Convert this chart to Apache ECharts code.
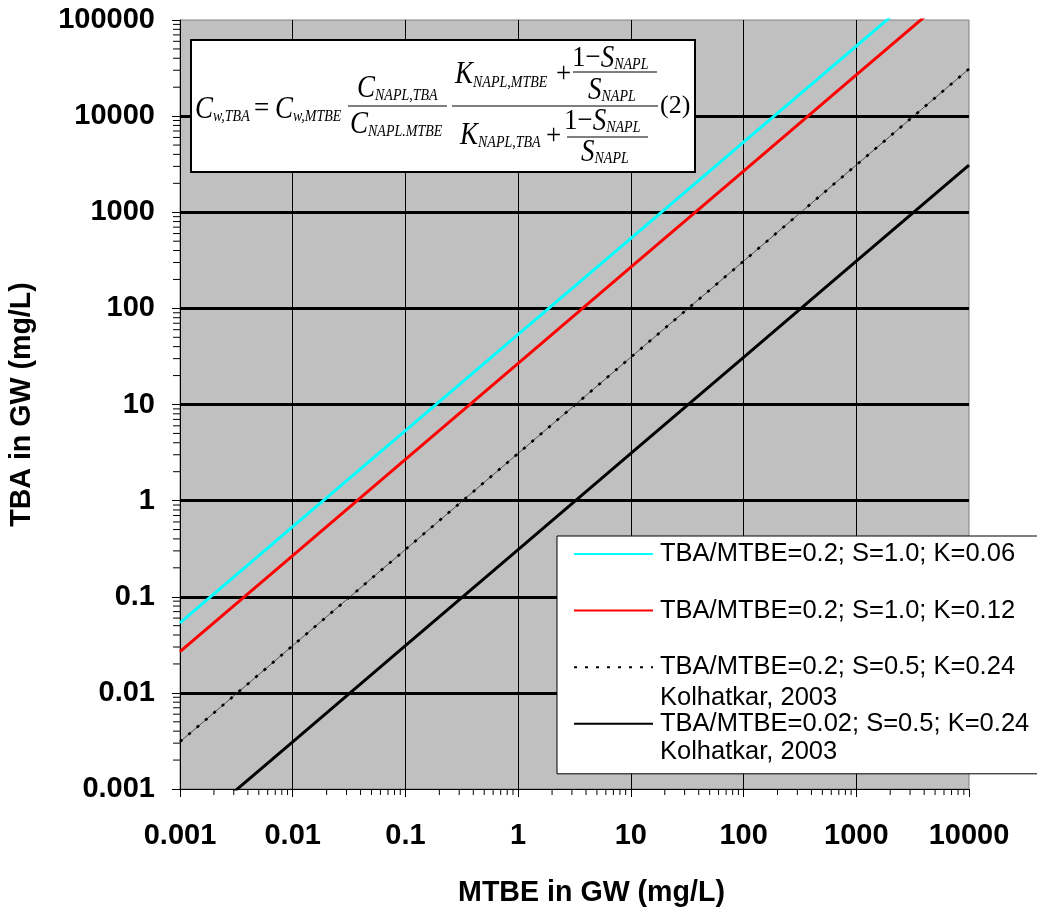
<!DOCTYPE html>
<html><head><meta charset="utf-8">
<script src="https://cdn.jsdelivr.net/npm/echarts@6/dist/echarts.min.js"></script>
<style>html,body{margin:0;padding:0;background:#fff}#c{width:1037px;height:907px}</style>
</head><body><div id="c"></div>
<script>
// ---- data ----
const mtbe = [0.001, 0.01, 0.1, 1, 10, 100, 1000, 10000];
const tbaCyan = [0.0536, 0.536, 5.36, 53.6, 536, 5360, 53600, 536000];
const tbaRed = [0.0268, 0.268, 2.68, 26.8, 268, 2680, 26800, 268000];
const tbaDotted = [0.0031, 0.031, 0.31, 3.1, 31, 310, 3100, 31000];
const tbaBlack = [0.00031, 0.0031, 0.031, 0.31, 3.1, 31, 310, 3100];
const seriesNames = [
  'TBA/MTBE=0.2; S=1.0; K=0.06',
  'TBA/MTBE=0.2; S=1.0; K=0.12',
  'TBA/MTBE=0.2; S=0.5; K=0.24',
  'TBA/MTBE=0.02; S=0.5; K=0.24'
];
const legendNotes = ['Kolhatkar, 2003', 'Kolhatkar, 2003'];
const xTickLabels = ['0.001', '0.01', '0.1', '1', '10', '100', '1000', '10000'];
const yTickLabels = ['0.001', '0.01', '0.1', '1', '10', '100', '1000', '10000', '100000'];
const xTitle = 'MTBE in GW (mg/L)';
const yTitle = 'TBA in GW (mg/L)';

const SANS = '"Liberation Sans", Arial, sans-serif';
const chart = echarts.init(document.getElementById('c'), null, {renderer: 'canvas'});
const pts = vals => mtbe.map((x, i) => [x, vals[i]]);
const dec = v => Math.round(Math.log10(v));

const option = {
  animation: false,
  backgroundColor: '#ffffff',
  grid: {left: 180, top: 20, right: 68, bottom: 118, show: true, backgroundColor: '#c0c0c0',
         borderColor: '#808080', borderWidth: 1, containLabel: false, outerBoundsMode: 'none'},
  xAxis: {
    type: 'log', logBase: 10, min: 0.001, max: 10000,
    axisLine: {show: true, onZero: false, lineStyle: {color: '#000', width: 1}},
    axisTick: {show: true, length: 8, lineStyle: {color: '#000', width: 1}},
    minorTick: {show: false},
    axisLabel: {margin: 32, color: '#000', fontFamily: SANS, fontSize: 29, fontWeight: 'bold',
                formatter: v => xTickLabels[dec(v) + 3]},
    splitLine: {show: true, showMinLine: false, showMaxLine: false, lineStyle: {color: '#000', width: 1}},
    name: xTitle, nameLocation: 'middle', nameGap: 90,
    nameTextStyle: {color: '#000', fontFamily: SANS, fontSize: 28.6, fontWeight: 'bold', padding: [0, 0, 0, 34]}
  },
  yAxis: {
    type: 'log', logBase: 10, min: 0.001, max: 100000,
    axisLine: {show: true, onZero: false, lineStyle: {color: '#000', width: 1}},
    axisTick: {show: true, length: 8, lineStyle: {color: '#000', width: 1}},
    minorTick: {show: false},
    axisLabel: {margin: 25, color: '#000', fontFamily: SANS, fontSize: 29, fontWeight: 'bold',
                formatter: v => yTickLabels[dec(v) + 3]},
    splitLine: {show: true, showMinLine: false, showMaxLine: false, lineStyle: {color: '#000', width: 3}},
    name: yTitle, nameLocation: 'middle', nameGap: 143,
    nameTextStyle: {color: '#000', fontFamily: SANS, fontSize: 28.6, fontWeight: 'bold'}
  },
  legend: {
    data: seriesNames, orient: 'vertical', left: 557, top: 536,
    padding: [5, 40, 37, 16], itemGap: 30.6, itemWidth: 79, itemHeight: 14,
    backgroundColor: '#ffffff', borderColor: '#000', borderWidth: 1, selectedMode: false,
    itemStyle: {opacity: 0, borderWidth: 0},
    textStyle: {color: '#000', fontFamily: SANS, fontSize: 25.5, lineHeight: 25, padding: [0, 0, 0, 2]}
  },
  series: [
    {name: seriesNames[0], type: 'line', data: pts(tbaCyan), symbol: 'none', showSymbol: false,
     lineStyle: {color: '#00ffff', width: 3}, itemStyle: {color: '#00ffff'}, z: 5},
    {name: seriesNames[1], type: 'line', data: pts(tbaRed), symbol: 'none', showSymbol: false,
     lineStyle: {color: '#ff0000', width: 3}, itemStyle: {color: '#ff0000'}, z: 5},
    {name: '_thin', type: 'line', data: pts(tbaDotted), symbol: 'none', showSymbol: false,
     lineStyle: {color: '#222', width: 0.7}, itemStyle: {color: '#222'}, z: 4, silent: true},
    {name: seriesNames[2], type: 'line', data: pts(tbaDotted), symbol: 'none', showSymbol: false,
     lineStyle: {color: '#000', width: 2.6, type: [3, 8]}, itemStyle: {color: '#000'}, z: 5},
    {name: seriesNames[3], type: 'line', data: pts(tbaBlack), symbol: 'none', showSymbol: false,
     lineStyle: {color: '#000', width: 3}, itemStyle: {color: '#000'}, z: 5}
  ]
};
chart.setOption(option);

// ---- graphics: minor ticks, equation box, legend notes ----
const g = [];
const origin = chart.convertToPixel({gridIndex: 0}, [0.001, 0.001]);
const ax = origin[0], ay = origin[1];
for (let d = -3; d < 4; d++) {
  for (let m = 2; m <= 9; m++) {
    const px = chart.convertToPixel({xAxisIndex: 0}, m * Math.pow(10, d));
    g.push({type: 'line', z: 6, silent: true, shape: {x1: px, y1: ay, x2: px, y2: ay + 6},
            style: {stroke: '#000', lineWidth: 1}});
  }
}
for (let d = -3; d < 5; d++) {
  for (let m = 2; m <= 9; m++) {
    const py = chart.convertToPixel({yAxisIndex: 0}, m * Math.pow(10, d));
    g.push({type: 'line', z: 6, silent: true, shape: {x1: ax - 7, y1: py, x2: ax, y2: py},
            style: {stroke: '#000', lineWidth: 1}});
  }
}

// equation
g.push({type: 'rect', z: 20, silent: true, shape: {x: 191, y: 40, width: 504, height: 132},
        style: {fill: '#ffffff', stroke: '#000', lineWidth: 2}});
const ctx = document.createElement('canvas').getContext('2d');
const F = {
  i: 'italic 27px "Liberation Serif"',
  u: '27px "Liberation Serif"',
  s: 'italic 14px "Liberation Serif"',
  p: '26px "Liberation Serif"'
};
const SY = {i: 1.2, u: 1.1, s: 1.15, p: 1.0};
function tw(font, t) { ctx.font = font; return ctx.measureText(t).width; }
function run(x, y, parts) {
  let cx = x;
  parts.forEach(([t, k, dy]) => {
    g.push({type: 'text', z: 21, silent: true, x: cx, y: y + (dy || 0), scaleY: SY[k],
            style: {text: t, font: F[k], fill: '#000', textAlign: 'left', textVerticalAlign: 'middle',
                    align: 'left', verticalAlign: 'middle'}});
    cx += tw(F[k], t);
  });
}
function bar(x1, x2, y) {
  g.push({type: 'line', z: 21, silent: true, shape: {x1: x1, y1: y, x2: x2, y2: y},
          style: {stroke: '#000', lineWidth: 1}});
}
run(195, 109.5, [['C', 'i'], ['w,TBA', 's', 7]]);
run(254, 109, [['=', 'u']]);
run(275, 109.5, [['C', 'i'], ['w,MTBE', 's', 7]]);
bar(348, 447, 106);
run(357, 88.5, [['C', 'i'], ['NAPL,TBA', 's', 7]]);
run(350, 124.5, [['C', 'i'], ['NAPL.MTBE', 's', 7]]);
bar(452, 658, 106);
run(455, 74.5, [['K', 'i'], ['NAPL,MTBE', 's', 8]]);
run(556, 74, [['+', 'u']]);
bar(573, 657, 72);
run(572, 58, [['1', 'u'], ['\u2212', 'u'], ['S', 'i'], ['NAPL', 's', 7]]);
run(588, 90, [['S', 'i'], ['NAPL', 's', 7]]);
run(460, 135, [['K', 'i'], ['NAPL,TBA', 's', 8]]);
run(546, 136, [['+', 'u']]);
bar(567, 648, 137);
run(564, 121, [['1', 'u'], ['\u2212', 'u'], ['S', 'i'], ['NAPL', 's', 7]]);
run(581, 152, [['S', 'i'], ['NAPL', 's', 7]]);
run(660, 106, [['(2)', 'p']]);

// legend notes (second line of two legend entries)
[697.7, 751.7].forEach((y, i) => {
  g.push({type: 'text', z: 30, silent: true, x: 660, y: y,
          style: {text: legendNotes[i], font: '25.5px ' + SANS, fill: '#000', textAlign: 'left',
                  textVerticalAlign: 'middle', align: 'left', verticalAlign: 'middle'}});
});
chart.setOption({graphic: {elements: g}});
</script></body></html>
